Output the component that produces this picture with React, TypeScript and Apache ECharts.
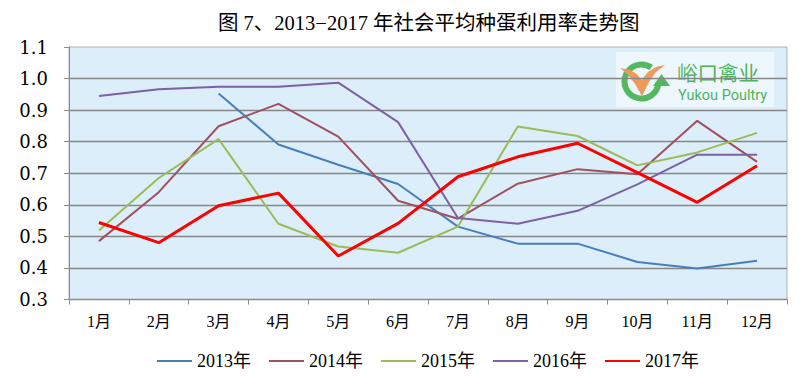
import React, { useEffect, useRef } from "react";
import * as echarts from "echarts";

const months = ["1月", "2月", "3月", "4月", "5月", "6月", "7月", "8月", "9月", "10月", "11月", "12月"];
const seriesNames = ["2013年", "2014年", "2015年", "2016年", "2017年"];
const y2013 = [null, null, 0.953, 0.791, 0.727, 0.666, 0.531, 0.477, 0.477, 0.419, 0.398, 0.423];
const y2014 = [0.485, 0.64, 0.849, 0.92, 0.816, 0.613, 0.556, 0.667, 0.713, 0.697, 0.866, 0.736];
const y2015 = [0.519, 0.685, 0.808, 0.54, 0.468, 0.448, 0.531, 0.848, 0.818, 0.725, 0.766, 0.828];
const y2016 = [0.945, 0.966, 0.974, 0.974, 0.987, 0.862, 0.558, 0.54, 0.581, 0.665, 0.759, 0.759];
const y2017 = [0.544, 0.48, 0.597, 0.637, 0.438, 0.541, 0.689, 0.752, 0.795, 0.702, 0.608, 0.724];
const colors = ["#4A7EBB", "#A0505E", "#9BBB59", "#7E60A4", "#FF0000"];
const widths = [2, 2, 2, 2, 3];
const titleText = "图 7、2013−2017 年社会平均种蛋利用率走势图";

export default function App() {
  const ref = useRef<HTMLDivElement>(null);
  useEffect(() => {
    if (!ref.current) return;
    const chart = echarts.init(ref.current, null, { renderer: "svg" });
    const data = [y2013, y2014, y2015, y2016, y2017];
    const serif = "'Liberation Serif', 'Noto Sans CJK SC', serif";
    chart.setOption({
      animation: false,
      backgroundColor: "#ffffff",
      title: {
        text: titleText,
        left: 213,
        top: 8,
        textStyle: { fontFamily: serif, fontSize: 20.5, fontWeight: "normal", color: "#000" },
      },
      legend: {
        data: seriesNames,
        left: 152,
        top: 347,
        icon: "rect",
        itemWidth: 35,
        itemHeight: 2,
        itemGap: 18,
        textStyle: { fontFamily: serif, fontSize: 18, color: "#000" },
      },
      grid: {
        left: 69,
        right: 13,
        top: 47,
        bottom: 77.5,
        show: true,
        backgroundColor: "#DBEEF9",
        borderColor: "#B0B0B0",
        borderWidth: 1,
      },
      xAxis: {
        type: "category",
        data: months,
        boundaryGap: true,
        axisLine: { lineStyle: { color: "#8C8C8C", width: 1 } },
        axisTick: { show: true, alignWithLabel: false, length: 5, lineStyle: { color: "#8C8C8C" } },
        axisLabel: { fontFamily: serif, fontSize: 16, color: "#000", margin: 14 },
      },
      yAxis: {
        type: "value",
        min: 0.3,
        max: 1.1,
        interval: 0.1,
        axisLine: { show: true, lineStyle: { color: "#8C8C8C", width: 1 } },
        axisTick: { show: true, length: 5, lineStyle: { color: "#8C8C8C" } },
        axisLabel: {
          fontFamily: "'DejaVu Serif', serif",
          fontSize: 18,
          color: "#000",
          margin: 21,
          formatter: (v: number) => v.toFixed(1),
        },
        splitLine: { show: true, showMaxLine: false, lineStyle: { color: "#868686", width: 1.3 } },
      },
      series: seriesNames.map((name, i) => ({
        name,
        type: "line",
        data: data[i],
        symbol: "none",
        connectNulls: false,
        lineStyle: { color: colors[i], width: widths[i] },
        itemStyle: { color: colors[i] },
        z: 3 + i,
      })),
      graphic: [
        {
          type: "group",
          z: 2,
          children: [
            { type: "rect", shape: { x: 616, y: 52, width: 158, height: 55 }, style: { fill: "#EEF7FD" } },
            {
              type: "arc",
              shape: { cx: 641.5, cy: 81.5, r: 17, startAngle: (5 * Math.PI) / 180, endAngle: (305 * Math.PI) / 180, clockwise: true },
              style: { stroke: "#55B860", lineWidth: 6, fill: "none" },
            },
            {
              type: "polygon",
              shape: { points: [[653, 86], [670, 86], [661.5, 74]] },
              style: { fill: "#55B860" },
            },
            {
              type: "polygon",
              shape: {
                points: [
                  [620, 68], [630, 70], [637, 74], [641.5, 80], [648, 72], [656, 67], [665, 65],
                  [656, 72], [649, 82], [642, 96], [635, 84], [628, 75],
                ],
              },
              style: { fill: "#EE9A5C" },
            },
            {
              type: "text",
              x: 677,
              y: 72,
              style: {
                text: "峪口禽业",
                fontFamily: "'Noto Sans CJK SC'",
                fontSize: 20.5,
                lineHeight: 18,
                fill: "#4DB45C",
                verticalAlign: "middle",
              },
            },
            {
              type: "text",
              x: 678,
              y: 95,
              style: {
                text: "Yukou Poultry",
                fontFamily: "Roboto",
                fontSize: 14.5,
                lineHeight: 14,
                fill: "#4DB45C",
                verticalAlign: "middle",
              },
            },
          ],
        },
      ],
    });
    return () => chart.dispose();
  }, []);
  return <div ref={ref} style={{ width: 800, height: 377, position: "absolute", left: 0, top: 0 }} />;
}
